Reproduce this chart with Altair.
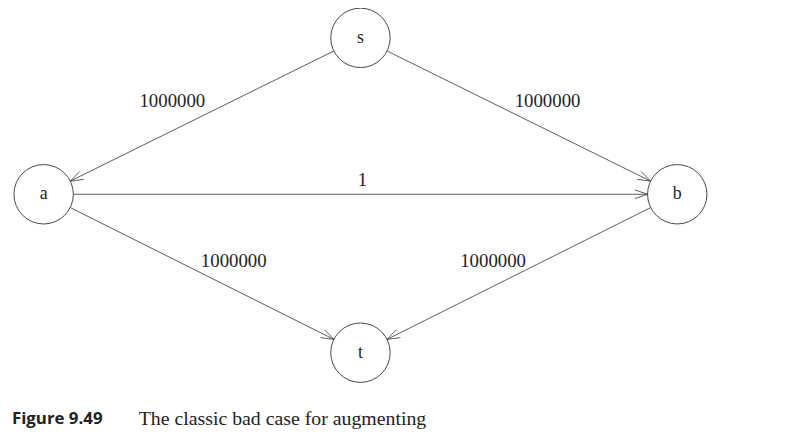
import altair as alt, pandas as pd, numpy as np

names = ["s", "a", "b", "t"]
nx = [364, 44, 684, 364]
ny = [36, 194, 194, 354]
edge_from = ["s", "s", "a", "a", "b"]
edge_to = ["a", "b", "b", "t", "t"]
edge_label = ["1000000", "1000000", "1", "1000000", "1000000"]
label_x = [174, 553, 366, 236, 498]
label_y = [100, 100, 180, 261, 261]

R = 30
pos = {n: (x, y) for n, x, y in zip(names, nx, ny)}
nodes = pd.DataFrame({"name": names, "x": nx, "y": ny})

segs = []
for f, t in zip(edge_from, edge_to):
    (x1, y1), (x2, y2) = pos[f], pos[t]
    d = np.hypot(x2 - x1, y2 - y1)
    ux, uy = (x2 - x1) / d, (y2 - y1) / d
    sx, sy = x1 + ux * R, y1 + uy * R
    ex, ey = x2 - ux * R, y2 - uy * R
    segs.append((sx, sy, ex, ey))
    L, w = 13, 4.5
    px, py = -uy, ux
    for s in (1, -1):
        segs.append((ex, ey, ex - ux * L + s * px * w, ey - uy * L + s * py * w))
lines = pd.DataFrame(segs, columns=["x", "y", "x2", "y2"])
labels = pd.DataFrame({"t": edge_label, "x": label_x, "y": label_y})

X = alt.Scale(domain=[8, 810], range=[0, 802])
Y = alt.Scale(domain=[8, 434], range=[0, 426])
ax = None

rules = alt.Chart(lines).mark_rule(color="#333", strokeWidth=0.8).encode(
    x=alt.X("x:Q", scale=X, axis=ax), y=alt.Y("y:Q", scale=Y, axis=ax),
    x2="x2:Q", y2="y2:Q")
circ = alt.Chart(nodes).mark_point(shape="circle", size=(2 * R) ** 2, filled=True,
    fill="white", stroke="#333", strokeWidth=0.9, opacity=1).encode(
    x=alt.X("x:Q", scale=X, axis=ax), y=alt.Y("y:Q", scale=Y, axis=ax))
ntext = alt.Chart(nodes).mark_text(font="Liberation Serif", fontSize=18, color="#222").encode(
    x=alt.X("x:Q", scale=X, axis=ax), y=alt.Y("y:Q", scale=Y, axis=ax), text="name:N")
etext = alt.Chart(labels).mark_text(font="Liberation Serif", fontSize=19, color="#222").encode(
    x=alt.X("x:Q", scale=X, axis=ax), y=alt.Y("y:Q", scale=Y, axis=ax), text="t:N")

cap = pd.DataFrame({"t": ["Figure 9.49", "The classic bad case for augmenting"],
                    "x": [12, 140], "y": [421, 421]})
cap1 = alt.Chart(cap.iloc[[0]]).mark_text(font="Open Sans", fontWeight="bold", fontSize=17,
    align="left", color="#222").encode(
    x=alt.X("x:Q", scale=X, axis=ax), y=alt.Y("y:Q", scale=Y, axis=ax), text="t:N")
cap2 = alt.Chart(cap.iloc[[1]]).mark_text(font="Liberation Serif", fontSize=20,
    align="left", color="#222").encode(
    x=alt.X("x:Q", scale=X, axis=ax), y=alt.Y("y:Q", scale=Y, axis=ax), text="t:N")

chart = alt.layer(rules, circ, ntext, etext, cap1, cap2).properties(
    width=802, height=426, padding=0, autosize="none"
).configure_view(stroke=None)
chart.save("out.html", embed_options={"renderer": "svg", "actions": False})
